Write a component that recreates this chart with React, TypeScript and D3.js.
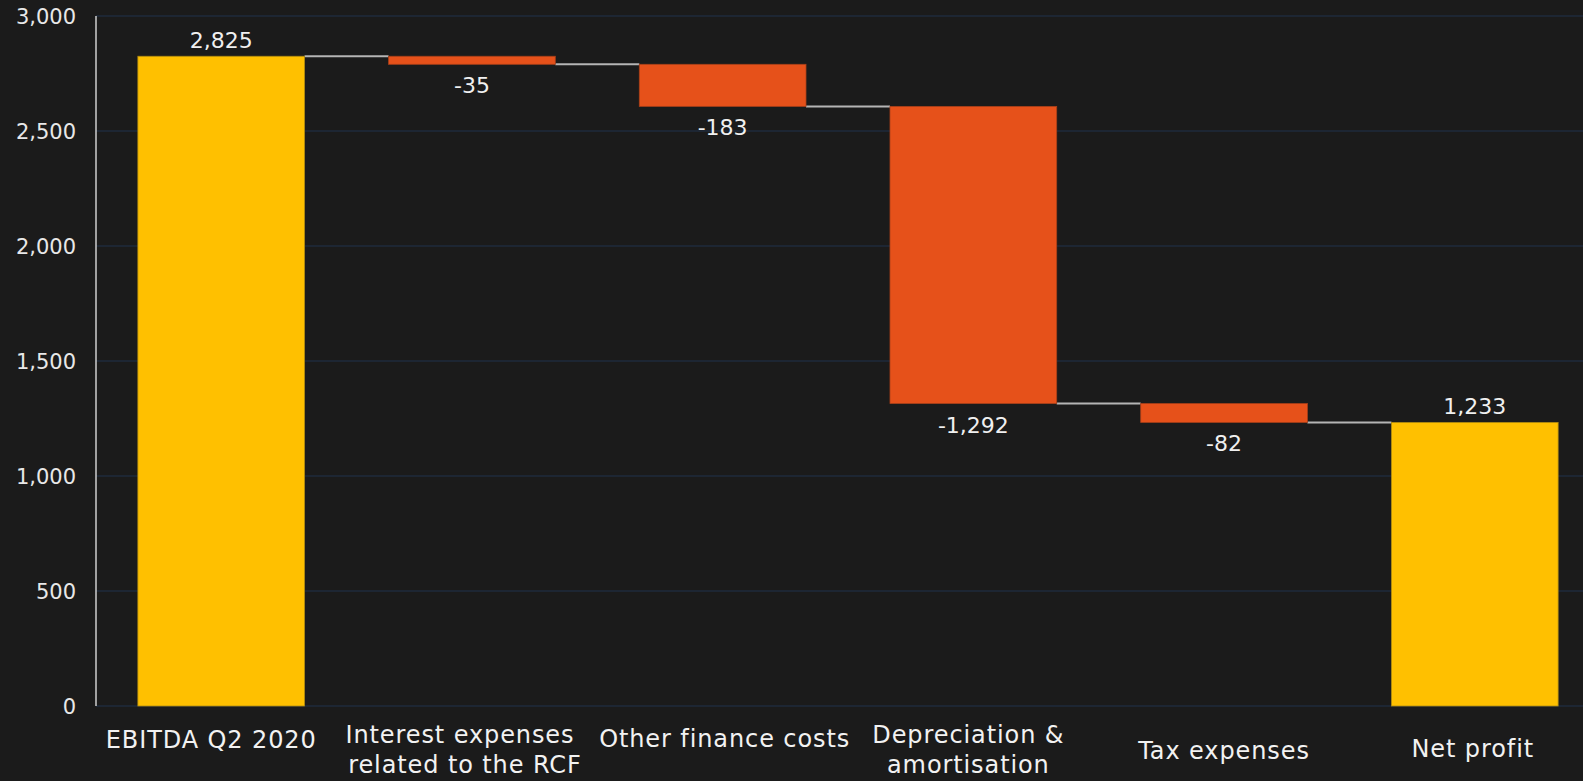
import React from "react";
import * as d3 from "d3";

const categories: string[][] = [
  ["EBITDA Q2 2020"],
  ["Interest expenses", "related to the RCF"],
  ["Other finance costs"],
  ["Depreciation &", "amortisation"],
  ["Tax expenses"],
  ["Net profit"],
];
const values: number[] = [2825, -35, -183, -1292, -82, 1233];
const isTotal: boolean[] = [true, false, false, false, false, true];
const yTicks: number[] = [0, 500, 1000, 1500, 2000, 2500, 3000];

// layout: first-line baseline below the axis, and per-line horizontal nudges
const labelBaselineOffset = [42, 37, 41, 37, 53, 51];
const labelDx: number[][] = [[-10], [-12, -7], [2], [-5, -5], [0], [-2]];

const W = 1583;
const H = 781;
const BG = "#1b1b1b";
const YELLOW = "#FFC000";
const ORANGE = "#E6511A";
const FONT = "'DejaVu Sans', 'Noto Sans', sans-serif";

export default function App() {
  const x = d3
    .scaleBand<number>()
    .domain(values.map((_, i) => i))
    .range([96, 1600])
    .paddingInner(0.335)
    .paddingOuter(0.167);
  const y = d3.scaleLinear().domain([0, 3000]).range([706, 16]);
  const fmtBase = d3.format(",");
  const fmt = (v: number) => fmtBase(v).replace("\u2212", "-");

  let running = 0;
  const bars = values.map((v, i) => {
    let start: number, end: number;
    if (isTotal[i]) {
      start = 0;
      end = v;
      running = v;
    } else {
      start = running;
      end = running + v;
      running = end;
    }
    return { i, v, start, end, level: end };
  });

  return (
    <div style={{ position: "fixed", left: 0, top: 0, width: W, height: H, background: BG }}>
      <svg width={W} height={H} style={{ display: "block" }} fontFamily={FONT}>
        <rect x={0} y={0} width={W} height={H} fill={BG} />
        {yTicks.map((t) => (
          <g key={t}>
            <line x1={96} x2={W} y1={y(t)} y2={y(t)} stroke="#1f2b3d" strokeWidth={1.5} />
            <text x={76} y={y(t)} dy="0.36em" textAnchor="end" fill="#e8e8e8" fontSize={21}>
              {fmt(t)}
            </text>
          </g>
        ))}
        <line x1={96} x2={96} y1={y(3000)} y2={y(0)} stroke="#cfcfcf" strokeWidth={1.5} />
        {bars.slice(0, -1).map((b) => {
          const x1 = (x(b.i) as number) + x.bandwidth();
          const x2 = x(b.i + 1) as number;
          return (
            <line key={"c" + b.i} x1={x1} x2={x2} y1={y(b.level)} y2={y(b.level)} stroke="#b5b5b5" strokeWidth={2} />
          );
        })}
        {bars.map((b) => {
          const top = y(Math.max(b.start, b.end));
          const bottom = y(Math.min(b.start, b.end));
          const bx = x(b.i) as number;
          const color = isTotal[b.i] ? YELLOW : ORANGE;
          return (
            <g key={"b" + b.i}>
              <rect
                x={bx}
                y={top}
                width={x.bandwidth()}
                height={bottom - top}
                fill={color}
                stroke={isTotal[b.i] ? "#b08a10" : "#a8401a"}
                strokeWidth={0.8}
              />
              <text
                x={bx + x.bandwidth() / 2}
                y={b.v >= 0 ? top - 8 : bottom + 29}
                textAnchor="middle"
                fill="#f0f0f0"
                fontSize={22}
              >
                {fmt(b.v)}
              </text>
            </g>
          );
        })}
        {categories.map((lines, i) => {
          const cx = (x(i) as number) + x.bandwidth() / 2;
          return (
            <text
              key={"l" + i}
              y={y(0) + labelBaselineOffset[i]}
              textAnchor="middle"
              fill="#f2f2f2"
              fontSize={24}
              letterSpacing={0.9}
            >
              {lines.map((ln, j) => (
                <tspan key={j} x={cx + labelDx[i][j]} dy={j === 0 ? 0 : 30}>
                  {ln}
                </tspan>
              ))}
            </text>
          );
        })}
      </svg>
    </div>
  );
}
